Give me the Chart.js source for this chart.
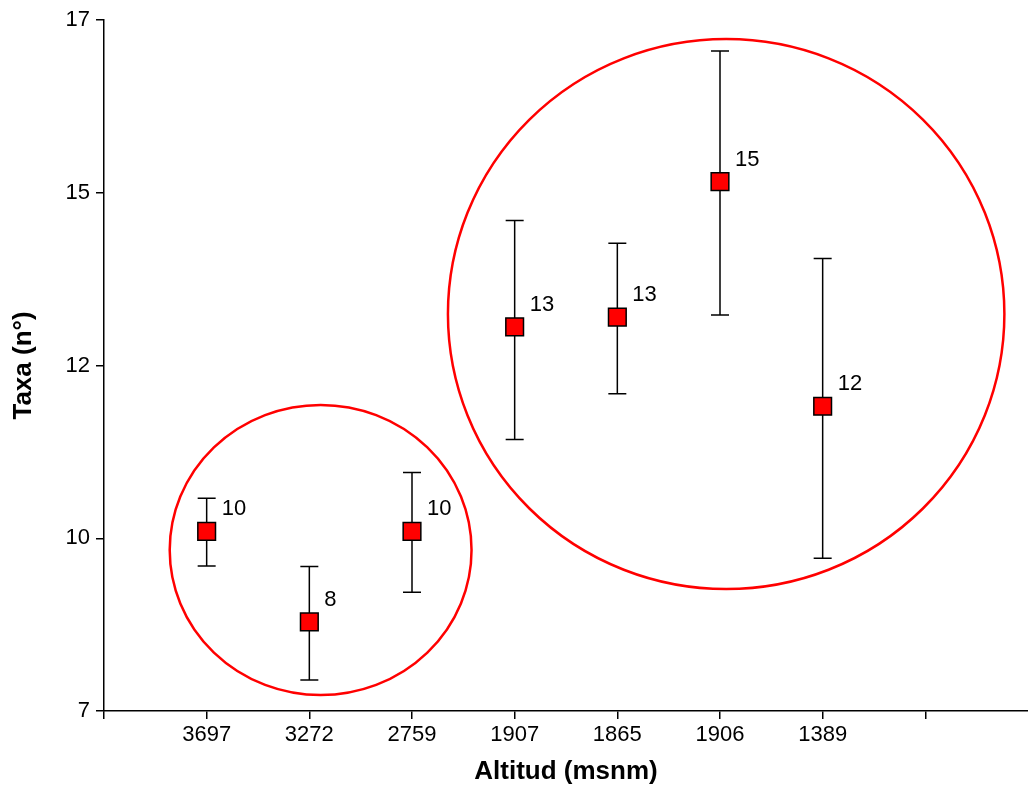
<!DOCTYPE html>
<html>
<head>
<meta charset="utf-8">
<script src="https://cdn.jsdelivr.net/npm/chart.js@4/dist/chart.umd.min.js"></script>
<style>
  html, body { margin: 0; padding: 0; background: #fff; overflow: hidden; }
  canvas { display: block; }
</style>
</head>
<body>
<canvas id="taxaChart" width="1028" height="789"></canvas>
<script>
altitudes = ['3697', '3272', '2759', '1907', '1865', '1906', '1389']
taxa_mean = [9.60, 8.29, 9.60, 12.56, 12.70, 14.66, 11.41]
taxa_high = [10.08, 9.09, 10.45, 14.10, 13.77, 16.55, 13.55]
taxa_low = [9.10, 7.45, 8.72, 10.93, 11.59, 12.73, 9.21]
taxa_labels = ['10', '8', '10', '13', '13', '15', '12']

// circled groups: centre and radii in data units
group_center_x = [2.11, 6.06]
group_center_y = [9.33, 12.745]
group_radius_x = [1.47, 2.71]
group_radius_y = [2.10, 3.98]

const FONT = "Arial, 'Liberation Sans', sans-serif"

points = []
taxa_mean.forEach(function(value, i){
  points.push({x: i + 1, y: value})
});

const groupCircles = {
  id: 'groupCircles',
  beforeDatasetsDraw(chart) {
    const ctx = chart.ctx
    const x = chart.scales.x
    const y = chart.scales.y
    ctx.save()
    ctx.strokeStyle = '#ff0000'
    ctx.lineWidth = 2.5
    group_center_x.forEach(function(cx, i){
      const px = x.getPixelForValue(cx)
      const py = y.getPixelForValue(group_center_y[i])
      const rx = x.getPixelForValue(cx + group_radius_x[i]) - px
      const ry = py - y.getPixelForValue(group_center_y[i] + group_radius_y[i])
      ctx.beginPath()
      ctx.ellipse(px, py, rx, ry, 0, 0, Math.PI * 2)
      ctx.stroke()
    });
    ctx.restore()
  }
};

const errorBars = {
  id: 'errorBars',
  beforeDatasetsDraw(chart) {
    const ctx = chart.ctx
    const x = chart.scales.x
    const y = chart.scales.y
    ctx.save()
    ctx.strokeStyle = '#000'
    ctx.lineWidth = 1.5
    taxa_mean.forEach(function(value, i){
      const px = x.getPixelForValue(i + 1)
      const top = y.getPixelForValue(taxa_high[i])
      const bottom = y.getPixelForValue(taxa_low[i])
      ctx.beginPath()
      ctx.moveTo(px, top); ctx.lineTo(px, bottom)
      ctx.moveTo(px - 9, top); ctx.lineTo(px + 9, top)
      ctx.moveTo(px - 9, bottom); ctx.lineTo(px + 9, bottom)
      ctx.stroke()
    });
    ctx.restore()
  }
};

const pointLabels = {
  id: 'pointLabels',
  afterDatasetsDraw(chart) {
    const ctx = chart.ctx
    const x = chart.scales.x
    const y = chart.scales.y
    ctx.save()
    ctx.fillStyle = '#000'
    ctx.font = '22px ' + FONT
    ctx.textAlign = 'left'
    ctx.textBaseline = 'middle'
    taxa_labels.forEach(function(text, i){
      const px = x.getPixelForValue(i + 1)
      const py = y.getPixelForValue(taxa_mean[i])
      ctx.fillText(text, px + 15, py - 22)
    });
    ctx.restore()
  }
};

const taxaCanvas = document.getElementById('taxaChart');
new Chart(
  taxaCanvas,
  {
    type: 'scatter',
    data: {
      datasets: [
        {
          label: 'Taxa',
          data: points,
          pointStyle: 'rect',
          pointRadius: 12.5,
          backgroundColor: '#ff0000',
          borderColor: '#000',
          borderWidth: 1.5,
          showLine: false,
        },
      ]
    },
    plugins: [groupCircles, errorBars, pointLabels],
    options: {
      responsive: false,
      animation: false,
      events: [],
      layout: {
        autoPadding: false,
        padding: {top: 20, right: 0, bottom: 0, left: 0}
      },
      plugins: {
        legend: false,
        tooltip: {enabled: false},
      },
      scales: {
        x: {
          type: 'linear',
          min: 0,
          max: 9,
          afterFit(scale) {
            scale.height = 78
            scale.paddingRight = 0
            scale.paddingLeft = 0
          },
          afterBuildTicks(scale) {
            scale.ticks = [0, 1, 2, 3, 4, 5, 6, 7, 8].map((v) => ({value: v}))
          },
          grid: {drawOnChartArea: false, drawTicks: true, tickLength: 8, color: '#000', lineWidth: 1.5},
          border: {display: true, color: '#000', width: 1.5},
          ticks: {
            autoSkip: false,
            maxRotation: 0,
            padding: 3,
            color: '#000',
            font: {family: FONT, size: 22},
            callback: (value) => (value >= 1 && value <= 7) ? altitudes[value - 1] : ''
          },
          title: {
            display: true,
            text: 'Altitud (msnm)',
            color: '#000',
            font: {family: FONT, size: 26, weight: 'bold'},
            padding: {top: 0, bottom: 2}
          }
        },
        y: {
          min: 7,
          max: 17,
          afterFit(scale) { scale.width = 104 },
          grid: {drawOnChartArea: false, drawTicks: true, tickLength: 8, color: '#000', lineWidth: 1.5},
          border: {display: true, color: '#000', width: 1.5},
          ticks: {
            stepSize: 2.5,
            padding: 6,
            color: '#000',
            font: {family: FONT, size: 22},
            callback: (value) => Math.round(value)
          },
          title: {
            display: true,
            text: 'Taxa (n°)',
            color: '#000',
            font: {family: FONT, size: 26, weight: 'bold'},
            padding: {top: 8, bottom: 0}
          }
        }
      }
    },
  }
);
</script>
</body>
</html>
